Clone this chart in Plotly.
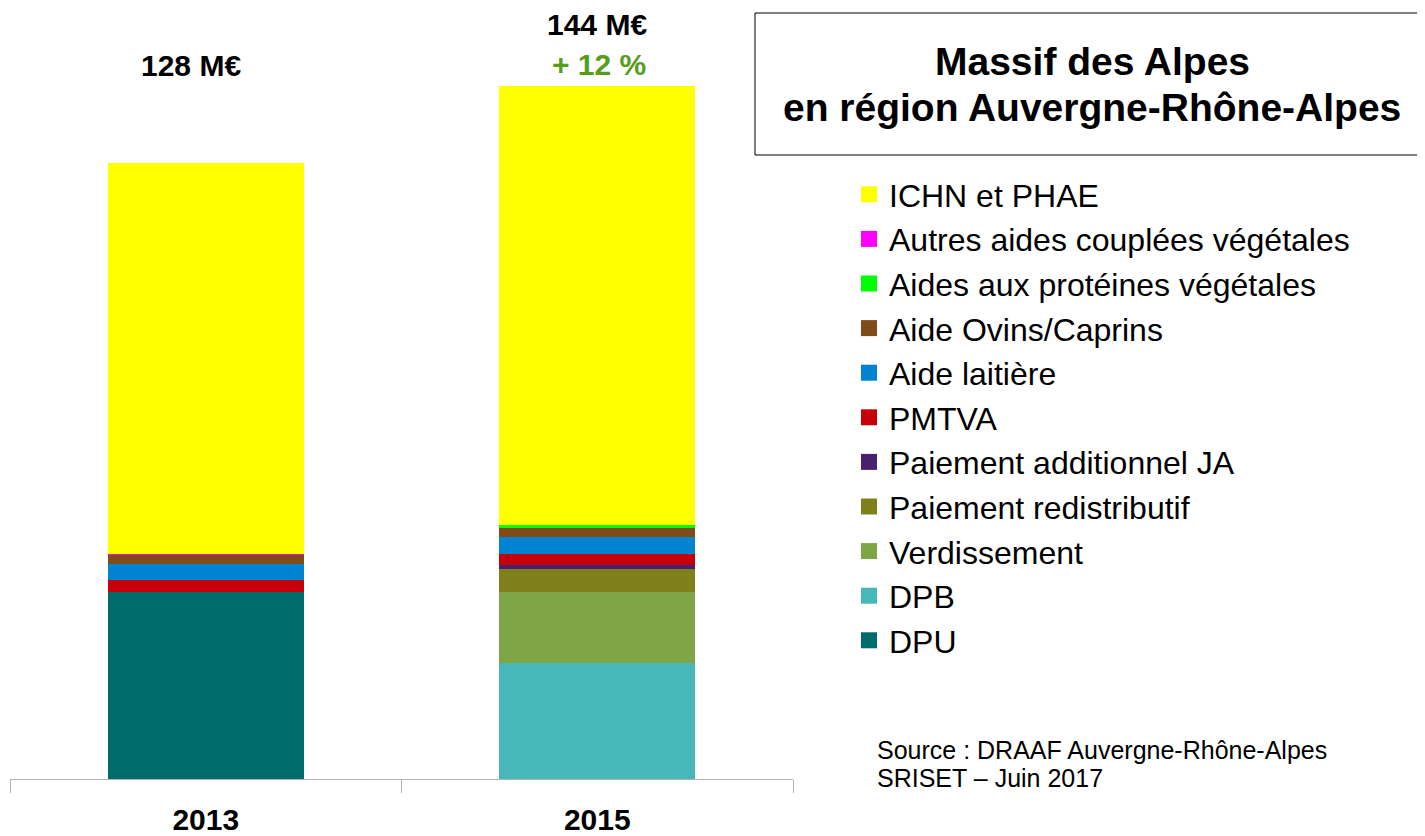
import plotly.graph_objects as go

categories = ["2013", "2015"]

# Series listed from bottom of the stack to the top
series_names = [
    "DPU", "DPB", "Verdissement", "Paiement redistributif",
    "Paiement additionnel JA", "PMTVA", "Aide laitière",
    "Aide Ovins/Caprins", "Aides aux protéines végétales",
    "Autres aides couplées végétales", "ICHN et PHAE",
]
dpu = [38.9, 0]
dpb = [0, 24.1]
verdissement = [0, 14.8]
paiement_redistributif = [0, 4.8]
paiement_ja = [0, 0.8]
pmtva = [2.5, 2.3]
aide_laitiere = [3.3, 3.5]
aide_ovins_caprins = [1.9, 1.9]
aides_proteines = [0, 0.6]
autres_aides_vegetales = [0.2, 0]
ichn_phae = [81.2, 91.2]

series_values = [
    dpu, dpb, verdissement, paiement_redistributif, paiement_ja, pmtva,
    aide_laitiere, aide_ovins_caprins, aides_proteines,
    autres_aides_vegetales, ichn_phae,
]
series_colors = [
    "#006B6B", "#47B8B8", "#7EA646", "#80801A", "#4B1F6F", "#C5000B",
    "#0084D1", "#814A19", "#00FF00", "#FF00FF", "#FFFF00",
]

total_labels = ["128 M€", "144 M€"]
change_label = "+ 12 %"
title_lines = ["Massif des Alpes", "en région Auvergne-Rhône-Alpes"]
source_lines = ["Source : DRAAF Auvergne-Rhône-Alpes", "SRISET – Juin 2017"]

FONT = "Liberation Sans, Arial, sans-serif"

fig = go.Figure()
for name, vals, col in zip(series_names, series_values, series_colors):
    fig.add_trace(go.Bar(
        x=categories, y=vals, name=name, marker_color=col,
        marker_line_width=0, showlegend=False, legendgroup=name,
    ))

# Legend entries (top of stack first), square symbols
for name, col in zip(series_names[::-1], series_colors[::-1]):
    fig.add_trace(go.Scatter(
        x=[categories[0]], y=[None], mode="markers", name=name, legendgroup=name,
        marker=dict(symbol="square", size=16, color=col),
    ))

# The page body adds an 8px offset.
# Plot area on screen: x 10..793, y 10..779
def px_x(px):
    return (px - 10) / 783

def px_y(py):
    return (779 - py) / 769

fig.update_layout(
    width=1409, height=828,
    margin=dict(l=2, r=624, t=2, b=57),
    paper_bgcolor="white", plot_bgcolor="white",
    barmode="stack", bargap=0.5,
    font=dict(family=FONT, color="black"),
    xaxis=dict(
        type="category", categoryorder="array", categoryarray=categories,
        range=[-0.5, 1.5], automargin=False, tickangle=0,
        showline=True, linecolor="#B3B3B3", linewidth=1,
        ticks="outside", tickson="boundaries", ticklen=13, tickcolor="#B3B3B3",
        tickfont=dict(size=30, family=FONT, color="black"),
        ticklabelstandoff=14,
        tickprefix="<b>", ticksuffix="</b>", showgrid=False, zeroline=False,
        fixedrange=True,
    ),
    yaxis=dict(visible=False, range=[0, 159.8], showgrid=False, zeroline=False,
               automargin=False),
    legend=dict(
        x=px_x(849), xanchor="left", y=px_y(167), yanchor="top",
        font=dict(size=32, family=FONT, color="black"),
        bgcolor="rgba(0,0,0,0)", itemclick=False, tracegroupgap=0,
    ),
    showlegend=True,
)

def ann(x, y, text, size, color="black", xref="paper", xanchor="center", xshift=0):
    return dict(x=x, y=y, xref=xref, yref="paper", xshift=xshift,
                text=text, showarrow=False, xanchor=xanchor, yanchor="middle",
                font=dict(size=size, color=color, family=FONT))

annotations = [
    ann(0, px_y(66), "<b>" + total_labels[0] + "</b>", 30, xref="x", xshift=-15),
    ann(1, px_y(24), "<b>" + total_labels[1] + "</b>", 30, xref="x"),
    ann(1, px_y(64), "<b>" + change_label + "</b>", 30, color="#579D1C", xref="x", xshift=2),
    ann(px_x(1092), px_y(62), "<b>" + title_lines[0] + "</b>", 39),
    ann(px_x(1092), px_y(108), "<b>" + title_lines[1] + "</b>", 39),
    ann(px_x(875), px_y(750), source_lines[0], 25, xanchor="left"),
    ann(px_x(875), px_y(778), source_lines[1], 25, xanchor="left"),
]
fig.update_layout(annotations=annotations)

fig.add_shape(type="rect", xref="paper", yref="paper",
              x0=px_x(755), x1=px_x(1445), y0=px_y(155), y1=px_y(13),
              line=dict(color="black", width=1), fillcolor="rgba(0,0,0,0)")

fig.write_html("out.html")
